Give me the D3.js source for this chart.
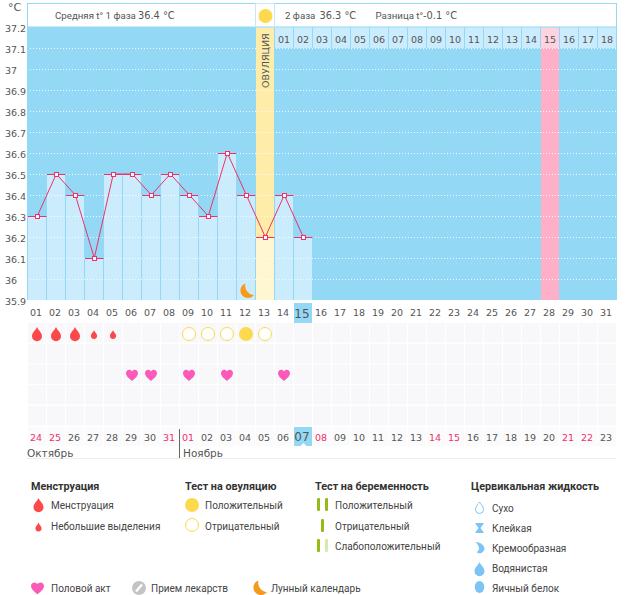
<!DOCTYPE html>
<html><head><meta charset="utf-8">
<script src="https://cdn.jsdelivr.net/npm/d3@7"></script>
<style>
html,body{margin:0;padding:0;background:#fff;overflow:hidden}
text{font-family:"DejaVu Sans",sans-serif;fill:#555}
.lg{font-family:Roboto,sans-serif;font-size:10px;fill:#444}
.lh{font-family:Roboto,sans-serif;font-size:10.8px;font-weight:700;fill:#333}
.ht{font-family:Roboto,sans-serif;font-size:9.7px;fill:#555}
</style></head><body>
<svg id="c" width="626" height="595"></svg>
<script>
const cycleDays=d3.range(1,32);
const temps=[36.3,36.5,36.4,36.1,36.5,36.5,36.4,36.5,36.4,36.3,36.6,36.4,36.2,36.4,36.2];
const yTicks=[37.2,37.1,37,36.9,36.8,36.7,36.6,36.5,36.4,36.3,36.2,36.1,36,35.9];
const dates=["24","25","26","27","28","29","30","31","01","02","03","04","05","06","07","08","09","10","11","12","13","14","15","16","17","18","19","20","21","22","23"];
const redDates=["24","25","31","01","08","14","15","21","22"];
const phase2Labels=["01","02","03","04","05","06","07","08","09","10","11","12","13","14","15","16","17","18"];
const flowDays=[1,2,3],spotDays=[4,5],ovPos=[12],ovNeg=[9,10,11,13],sexDays=[6,7,9,11,14];
const moonDay=12,ovulationDay=13,peakDay=28,currentDay=15,phase2Start=14;

const svg=d3.select("#c");
const x=d3.scaleBand().domain(cycleDays).range([28,617]);
const cx=d=>x(d)+x.bandwidth()/2;
const y=d3.scaleLinear().domain([35.9,37.2]).range([300,27]);
const blue="#93d8f5",light="#cbecfd",red="#f0306a";
const rowY=[323,344,364.5,385,406];

svg.append("rect").attr("x",27).attr("y",27).attr("width",590).attr("height",273).attr("fill",blue);
svg.selectAll(".p2").data(phase2Labels).join("rect")
 .attr("x",(d,i)=>x(phase2Start+i)).attr("y",27).attr("width",18).attr("height",21).attr("fill",light);
svg.append("rect").attr("x",x(peakDay)).attr("y",48).attr("width",18).attr("height",252).attr("fill","#fdb0c8");
svg.append("rect").attr("x",x(peakDay)).attr("y",27).attr("width",18).attr("height",21).attr("fill","#fdd3e0");
svg.append("rect").attr("x",x(ovulationDay)).attr("y",27).attr("width",18).attr("height",y(temps[12])-27).attr("fill","#fdeda8");
svg.append("rect").attr("x",x(ovulationDay)).attr("y",y(temps[12])).attr("width",18).attr("height",300-y(temps[12])).attr("fill","#fef7d2");
svg.selectAll(".bar").data(temps).join("rect")
 .attr("x",(d,i)=>x(i+1)).attr("y",d=>y(d)).attr("width",18).attr("height",d=>300-y(d))
 .attr("fill",(d,i)=>i+1==ovulationDay?"none":light);
svg.selectAll(".g").data(yTicks.slice(1,-1)).join("line")
 .attr("x1",30).attr("x2",616).attr("y1",d=>Math.round(y(d))+.5).attr("y2",d=>Math.round(y(d))+.5)
 .attr("stroke","#fff").attr("stroke-dasharray","1 2").attr("stroke-opacity",.85);
svg.append("rect").attr("x",27.5).attr("y",3.5).attr("width",589).attr("height",23.5).attr("fill","#fff").attr("stroke",blue);
svg.append("rect").attr("x",x(ovulationDay)-.5).attr("y",3.5).attr("width",19).attr("height",23.5).attr("fill","none").attr("stroke","#c4e9f8");
svg.append("circle").attr("cx",cx(ovulationDay)).attr("cy",16).attr("r",7).attr("fill","#fdd94e");
function hdr(px,t){svg.append("text").attr("class","ht").attr("x",px).attr("y",19).text(t)}
function val(px,t){svg.append("text").attr("x",px).attr("y",19).attr("font-size",9.8).text(t)}
hdr(55,"Средняя t° 1 фаза");val(138,"36.4 °C");
hdr(285,"2 фаза");val(319.5,"36.3 °C");hdr(375.5,"Разница t°");val(423,"-0.1 °C");
svg.append("text").attr("transform",`translate(${cx(ovulationDay)+3.5},88) rotate(-90)`).attr("font-size",9.5).text("ОВУЛЯЦИЯ");
const yAxis=d3.axisLeft(y).tickValues(yTicks).tickSize(0).tickFormat(d=>d3.format("~g")(d));
const ga=svg.append("g").attr("transform","translate(5,0)").call(yAxis);
ga.select(".domain").remove();
ga.selectAll("text").attr("font-family","DejaVu Sans").attr("font-size",9.5).attr("fill","#555").attr("x",0).attr("text-anchor","start").attr("dy","0.5em");
svg.append("text").attr("x",8).attr("y",11).attr("font-size",11).text("°C");
svg.selectAll(".pl").data(phase2Labels).join("text")
 .attr("x",(d,i)=>cx(phase2Start+i)-.5).attr("y",43).attr("text-anchor","middle").attr("font-size",9.5).text(d=>d);
svg.append("rect").attr("x",x(currentDay)).attr("y",303).attr("width",18).attr("height",20).attr("fill",blue);
svg.selectAll(".xl").data(cycleDays).join("text")
 .attr("x",d=>cx(d)-1.5).attr("y",d=>d==currentDay?317.5:316).attr("text-anchor","middle")
 .attr("font-size",d=>d==currentDay?12:9.5).text(d=>d3.format("02")(d));
rowY.forEach(ry=>svg.selectAll(null).data(cycleDays).join("rect")
 .attr("x",d=>x(d)).attr("y",ry).attr("width",18).attr("height",19.5).attr("fill","#f8f8fa"));
svg.selectAll(".dc").data(cycleDays).join("rect").attr("x",d=>x(d)).attr("y",427).attr("width",18).attr("height",19).attr("fill","#fbfbfc");
svg.append("rect").attr("x",x(currentDay)).attr("y",427).attr("width",18).attr("height",19).attr("fill",blue);
svg.append("path").attr("d",`M${cx(currentDay)-3},446l3,-3l3,3z`).attr("fill","#fff");
svg.selectAll(".dl").data(dates).join("text")
 .attr("x",(d,i)=>cx(i+1)-1.5).attr("y",441).attr("text-anchor","middle")
 .attr("font-size",(d,i)=>i+1==currentDay?12:9.5)
 .style("fill",d=>redDates.includes(d)?"#f0306a":"#555").text(d=>d);
svg.append("line").attr("x1",179.5).attr("x2",179.5).attr("y1",429).attr("y2",458).attr("stroke","#666");
svg.append("line").attr("x1",26).attr("x2",616).attr("y1",458.5).attr("y2",458.5).attr("stroke","#eee");
svg.append("text").attr("x",27).attr("y",457).attr("font-size",10.5).text("Октябрь");
svg.append("text").attr("x",183).attr("y",457).attr("font-size",10.5).text("Ноябрь");
svg.selectAll(".cap").data(temps).join("line")
 .attr("x1",(d,i)=>x(i+1)).attr("x2",(d,i)=>x(i+1)+18.5).attr("y1",d=>Math.round(y(d))+.5).attr("y2",d=>Math.round(y(d))+.5)
 .attr("stroke",red);
svg.append("path").datum(temps).attr("fill","none").attr("stroke",red)
 .attr("d",d3.line().x((d,i)=>cx(i+1)-.2).y(d=>y(d)));
svg.selectAll(".pt").data(temps).join("rect")
 .attr("x",(d,i)=>Math.floor(cx(i+1))-1.5).attr("y",d=>Math.round(y(d))-1.5).attr("width",4).attr("height",4)
 .attr("fill","#fff").attr("stroke",red);
function drop(g,px,py,s,c){g.append("path").attr("transform",`translate(${px},${py}) scale(${s})`)
 .attr("d","M0,-7C1,-4 5,-1.5 5,2.2A5,5 0 0 1 -5,2.2C-5,-1.5 -1,-4 0,-7Z").attr("fill",c);}
function heart(g,px,py,s=1){g.append("path").attr("transform",`translate(${px},${py}) scale(${s})`)
 .attr("d","M0,6C-2,4 -6,1.5 -6,-1.8C-6,-4 -4.4,-5.2 -2.9,-5.2C-1.6,-5.2 -.6,-4.5 0,-3.6C.6,-4.5 1.6,-5.2 2.9,-5.2C4.4,-5.2 6,-4 6,-1.8C6,1.5 2,4 0,6Z").attr("fill","#fb5bb8");}
function moon(g,px,py){g.append("path").attr("transform",`translate(${px},${py})`)
 .attr("d","M-1,-7.5A7.5,7.5 0 1 0 7.5,4A9.2,9.2 0 0 1 -1,-7.5Z").attr("fill","#f59a1b");}
function ring(g,px,py,fill){g.append("circle").attr("cx",px).attr("cy",py).attr("r",fill?7:6.5).attr("fill",fill?"#fdd94e":"#fff").attr("stroke",fill?"none":"#fdd94e").attr("stroke-width",1);}
flowDays.forEach(d=>drop(svg,cx(d)-.5,334,1,"#fb4848"));
spotDays.forEach(d=>drop(svg,cx(d)-.5,334.5,.62,"#fb4848"));
ovNeg.forEach(d=>ring(svg,cx(d)-.5,334,false));
ovPos.forEach(d=>ring(svg,cx(d)-.5,334,true));
sexDays.forEach(d=>heart(svg,cx(d)-.5,375));
moon(svg,cx(moonDay),291);
const lh=(px,py,t)=>svg.append("text").attr("class","lh").attr("x",px).attr("y",py).text(t);
const lg=(px,py,t)=>svg.append("text").attr("class","lg").attr("x",px).attr("y",py).text(t);
lh(31,490,"Менструация");lh(185,490,"Тест на овуляцию");lh(315,490,"Тест на беременность");lh(471,490,"Цервикальная жидкость");
drop(svg,38.5,505,1,"#fb4848");lg(51,509,"Менструация");
drop(svg,38.5,527,.62,"#fb4848");lg(51,530,"Небольшие выделения");
ring(svg,192,505,true);lg(205,509,"Положительный");
ring(svg,192,525,false);lg(205,530,"Отрицательный");
function bar(px,py,c){svg.append("rect").attr("x",px).attr("y",py).attr("width",3).attr("height",13).attr("rx",1).attr("fill",c)}
bar(317,498,"#94bc14");bar(325,498,"#94bc14");lg(335,509,"Положительный");
bar(321,519,"#94bc14");lg(335,530,"Отрицательный");
bar(317,539,"#94bc14");bar(325,539,"#dbe7b0");lg(335,550,"Слабоположительный");
const cf="#7cc4f5";
svg.append("path").attr("transform","translate(479.5,508)").attr("d","M0,-6C1,-4 4,-2 4,1.5A4,4 0 0 1 -4,1.5C-4,-2 -1,-4 0,-6Z").attr("fill","#fff").attr("stroke",cf);
svg.append("path").attr("transform","translate(479.5,528)").attr("d","M-4,-5H4V-4L1,0L4,4V5H-4V4L-1,0L-4,-4Z").attr("fill",cf);
svg.append("path").attr("transform","translate(479.5,548)").attr("d","M-4,-6C2,-6 5,-2 5,1A4.8,4.8 0 0 1 -3,4C0,3 1,-1 -4,-6Z").attr("fill",cf);
drop(svg,479.5,569,1,cf);
svg.append("ellipse").attr("cx",479.5).attr("cy",587).attr("rx",4.8).attr("ry",6).attr("fill",cf);
lg(492,512,"Сухо");lg(492,532,"Клейкая");lg(492,552,"Кремообразная");lg(492,572,"Водянистая");lg(492,592,"Яичный белок");
heart(svg,37.5,588,1.08);lg(51,592,"Половой акт");
svg.append("circle").attr("cx",139).attr("cy",588).attr("r",7).attr("fill","#c4c4c4");
svg.append("line").attr("x1",136).attr("y1",591.5).attr("x2",142).attr("y2",584.5).attr("stroke","#fff").attr("stroke-width",2.4);
lg(151,592,"Прием лекарств");
moon(svg,259.5,588);lg(271,592,"Лунный календарь");
</script></body></html>
